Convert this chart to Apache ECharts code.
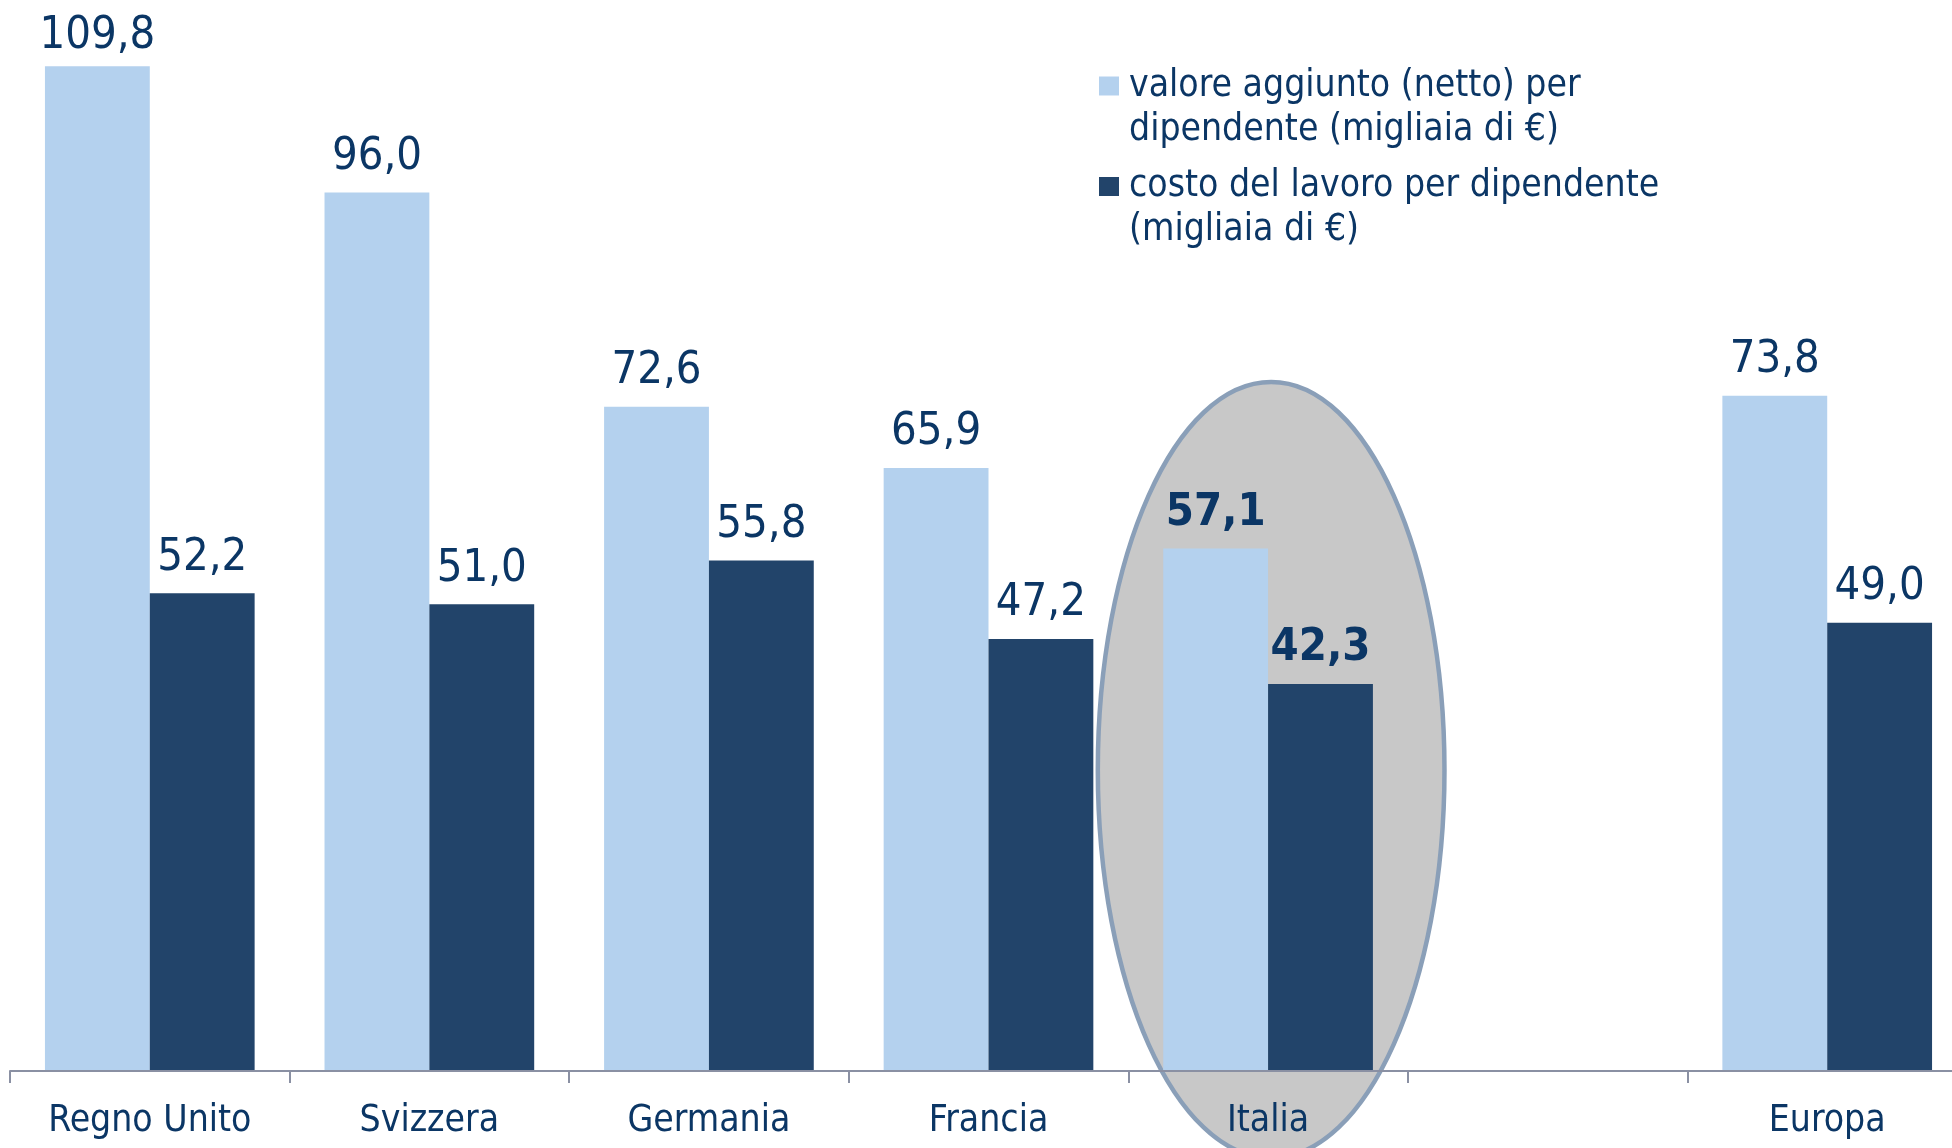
<!DOCTYPE html>
<html>
<head>
<meta charset="utf-8">
<script src="https://cdn.jsdelivr.net/npm/echarts@6/dist/echarts.min.js"></script>
<style>
  html, body { margin: 0; padding: 0; background: #ffffff; overflow: hidden; }
  #chart { width: 1967px; height: 1148px; }
</style>
</head>
<body>
<div id="chart"></div>
<script>
const categories = ['Regno Unito', 'Svizzera', 'Germania', 'Francia', 'Italia', '', 'Europa'];
const valoreAggiunto = [109.8, 96.0, 72.6, 65.9, 57.1, null, 73.8];
const costoLavoro = [52.2, 51.0, 55.8, 47.2, 42.3, null, 49.0];
const seriesNames = ['valore aggiunto (netto) per\ndipendente (migliaia di €)', 'costo del lavoro per dipendente\n(migliaia di €)'];
const highlighted = 'Italia';

const FONT = '"DejaVu Sans Condensed", "DejaVu Sans", sans-serif';
const TEXT = '#0b3665';
const LIGHT = '#b4d1ee';
const DARK = '#22446a';

function fmt(v) { return v == null ? '' : v.toFixed(1).replace('.', ','); }
function toData(arr) {
  return arr.map((v, i) => categories[i] === highlighted
    ? { value: v, label: { fontWeight: 'bold' } }
    : v);
}

const labelStyle = {
  show: true, position: 'top', distance: 13,
  fontFamily: FONT, fontSize: 45, color: TEXT,
  formatter: p => fmt(p.value)
};
// keep value labels a little below the top edge of the picture
const MIN_LABEL_TOP = 14;
const keepInside = p => {
  const r = p.labelRect;
  if (r.y >= MIN_LABEL_TOP) return {};
  return { x: r.x + r.width / 2, y: MIN_LABEL_TOP + r.height, align: 'center', verticalAlign: 'bottom' };
};

const chart = echarts.init(document.getElementById('chart'), null, { renderer: 'canvas' });
const legendText = {
  fontFamily: FONT, fontSize: 37, color: TEXT, lineHeight: 44,
  padding: [7, 0, 0, 5]
};
const legendCommon = {
  orient: 'vertical', left: 1099, padding: 0,
  itemWidth: 20, itemHeight: 19, icon: 'rect', textStyle: legendText, selectedMode: false,
  formatter: name => '\n' + name
};
chart.setOption({
  backgroundColor: '#ffffff',
  animation: false,
  grid: { left: 10, right: 0, top: 64.5, bottom: 77 },
  legend: [
    Object.assign({ data: [seriesNames[0]], top: 16.5 }, legendCommon),
    Object.assign({ data: [seriesNames[1]], top: 117 }, legendCommon)
  ],
  xAxis: {
    type: 'category', data: categories, z: 5,
    axisLine: { lineStyle: { color: '#8a90a3', width: 2 } },
    axisTick: { show: true, length: 12, lineStyle: { color: '#8a90a3', width: 2 } },
    axisLabel: { fontFamily: FONT, fontSize: 37, color: TEXT, margin: 32, interval: 0 }
  },
  yAxis: { type: 'value', min: 0, max: 110, show: false, splitLine: { show: false } },
  series: [
    { name: seriesNames[0], type: 'bar', data: toData(valoreAggiunto), barGap: '0%', barCategoryGap: '25%',
      itemStyle: { color: LIGHT }, label: labelStyle, labelLayout: keepInside, z: 3 },
    { name: seriesNames[1], type: 'bar', data: toData(costoLavoro), barGap: '0%', barCategoryGap: '25%',
      itemStyle: { color: DARK }, label: labelStyle, labelLayout: keepInside, z: 3 }
  ]
});

// Highlight ellipse around the highlighted category, placed through the axes
const pC = chart.convertToPixel({ xAxisIndex: 0, yAxisIndex: 0 }, [highlighted, 32.9]);
const pTop = chart.convertToPixel({ xAxisIndex: 0, yAxisIndex: 0 }, [highlighted, 32.9 + 42.4]);
const pNext = chart.convertToPixel({ xAxisIndex: 0, yAxisIndex: 0 }, [categories[categories.indexOf(highlighted) + 1], 0]);
const band = pNext[0] - pC[0];
chart.setOption({
  graphic: [{
    type: 'ellipse', z: 1, silent: true,
    shape: { cx: pC[0] + band * 0.011, cy: pC[1], rx: band * 0.62, ry: pC[1] - pTop[1] },
    style: { fill: '#c8c8c8', stroke: '#8a9fb8', lineWidth: 4.5 }
  }]
});
</script>
</body>
</html>
